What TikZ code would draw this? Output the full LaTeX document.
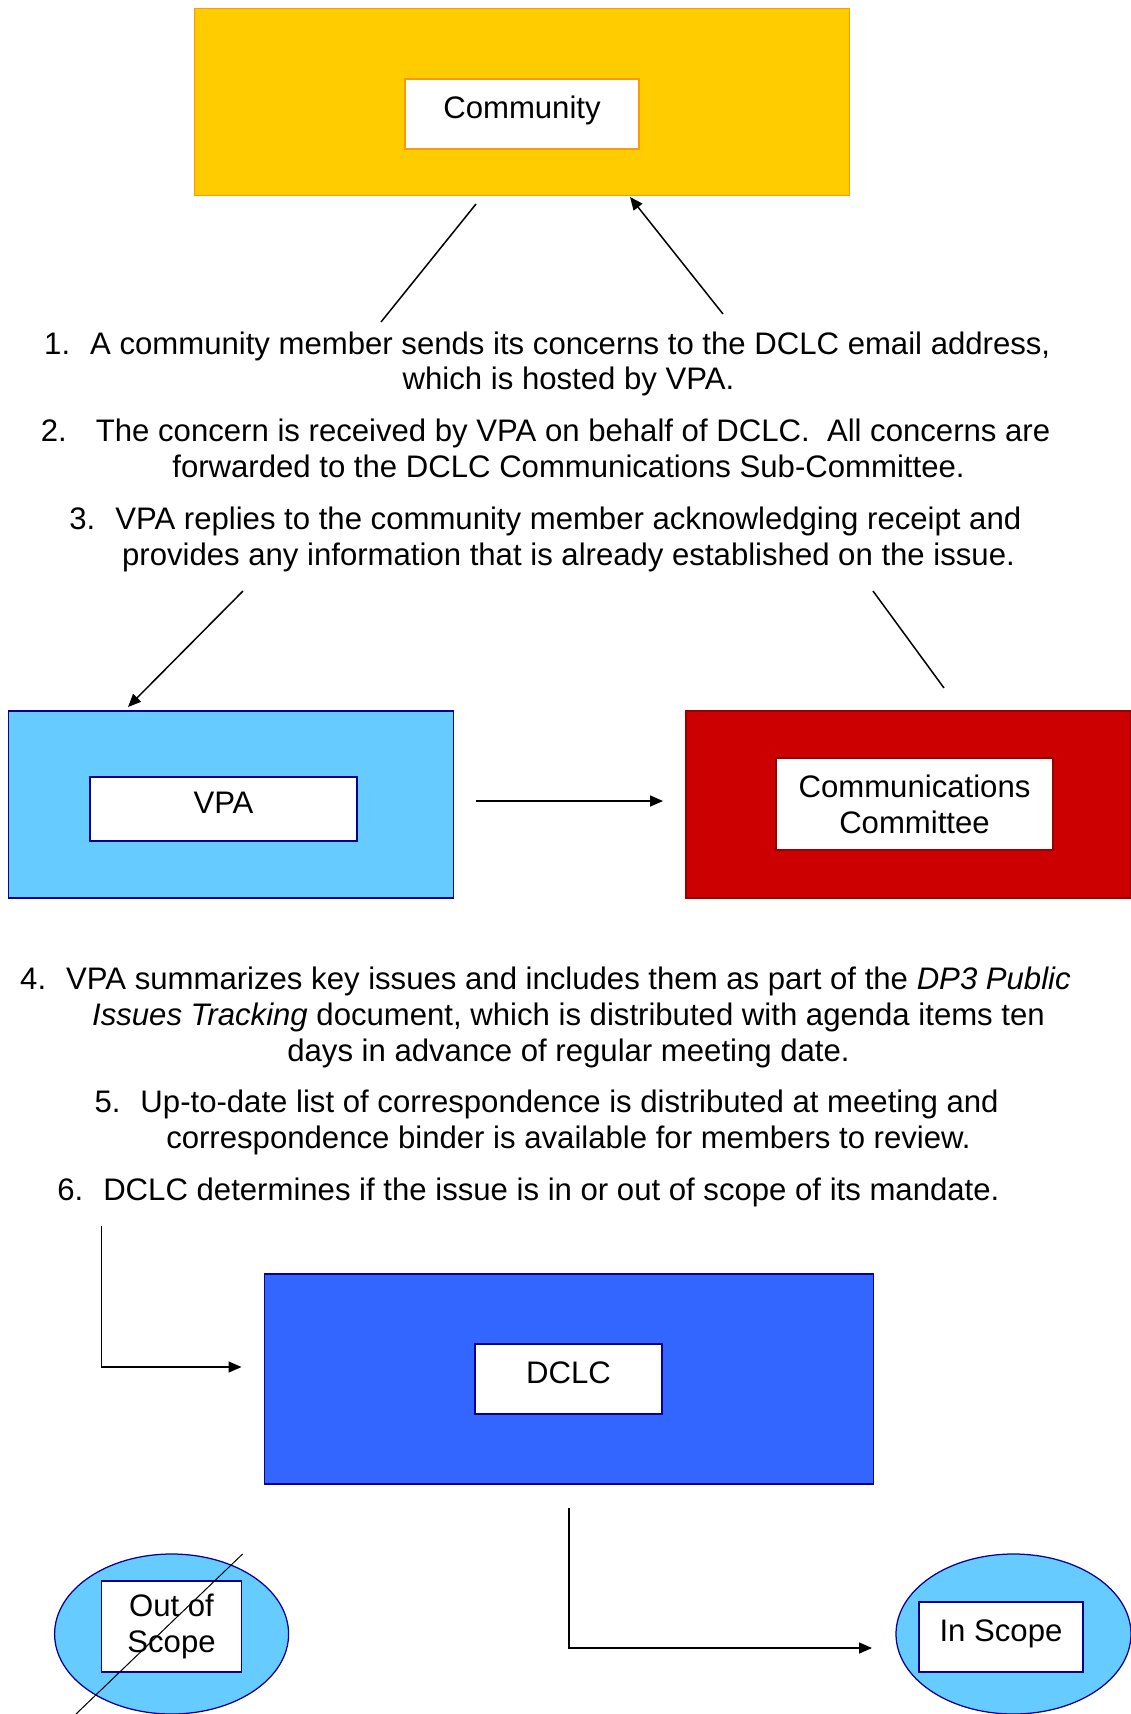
\documentclass[tikz,border=0pt]{standalone}
\usepackage{fontspec}
\setmainfont{Liberation Sans}
\usepackage{tikz}
\usetikzlibrary{arrows.meta,calc,positioning,shapes.geometric}
\usepackage{xcolor}
\definecolor{commfill}{HTML}{FFCC00}
\definecolor{commline}{HTML}{FF9900}
\definecolor{vpafill}{HTML}{66CCFF}
\definecolor{navyline}{HTML}{000099}
\definecolor{ccfill}{HTML}{CC0000}
\definecolor{ccline}{HTML}{990000}
\definecolor{dclcfill}{HTML}{3366FF}
\newcommand{\stepnum}[2][18.4pt]{\makebox[#1][l]{#2}}

\begin{document}
\begin{tikzpicture}[x=0.4pt,y=-0.4pt,
  boxsize/.style 2 args={minimum width=#1*0.4pt,minimum height=#2*0.4pt},
  txt/.style={font=\fontsize{12.45}{14.4}\selectfont,inner sep=0pt,text height=8.9pt,text depth=0pt},
  outerbox/.style={draw,line width=0.5pt,inner sep=0pt},
  innerbox/.style={draw,fill=white,line width=0.5pt,inner sep=0pt,font=\fontsize{12.45}{14.4}\selectfont,text height=8.9pt,text depth=5pt},
  innertwo/.style={draw,fill=white,line width=0.5pt,inner sep=0pt,font=\fontsize{12.45}{14.4}\selectfont,align=center},
  conn/.style={line width=0.6pt},
  arr/.style={line width=0.6pt,-{Triangle[length=5.2pt,width=4.4pt]}}]
  \useasboundingbox (0,0) rectangle (1131,1714);
  % community
  \node[outerbox,fill=commfill,draw=commline,boxsize={655}{187}] (commbg) at (522,102) {};
  \node[innerbox,draw=commline,boxsize={234}{70}] (community) at (522,114) {Community};
  \coordinate (c1a) at (476,204); \coordinate (c1b) at (381,322);
  \coordinate (c2a) at (723,314); \coordinate (c2b) at (630,197);
  \draw[conn] (c1a)--(c1b);
  \draw[arr] (c2a)--(c2b);
  % steps 1-3
  \node[txt,anchor=west] (s1a) at (43.7,343) {\stepnum{1.}A community member sends its concerns to the DCLC email address,};
  \node[txt] (s1b) at (568.5,378) {which is hosted by VPA.};
  \node[txt,anchor=west] (s2a) at (40.4,430.6) {\stepnum[22pt]{2.}The concern is received by VPA on behalf of DCLC.\ \ All concerns are};
  \node[txt] (s2b) at (568.5,466.6) {forwarded to the DCLC Communications Sub-Committee.};
  \node[txt,anchor=west] (s3a) at (68.8,518) {\stepnum{3.}VPA replies to the community member acknowledging receipt and};
  \node[txt] (s3b) at (568.5,554) {provides any information that is already established on the issue.};
  \coordinate (c3a) at (243,591); \coordinate (c3b) at (128,707);
  \coordinate (c4a) at (873,591); \coordinate (c4b) at (944,688);
  \draw[arr] (c3a)--(c3b);
  \draw[conn] (c4a)--(c4b);
  % vpa and committee
  \node[outerbox,fill=vpafill,draw=navyline,boxsize={445}{187}] (vpabg) at (231,804.5) {};
  \node[innerbox,draw=navyline,boxsize={267}{64}] (vpa) at (223.5,809) {VPA};
  \node[outerbox,fill=ccfill,draw=ccline,boxsize={445}{187}] (ccbg) at (908.5,804.5) {};
  \node[innertwo,draw=ccline,boxsize={277}{92}] (cc) at (914.5,804) {Communications\\Committee};
  \coordinate (c5a) at (476,801); \coordinate (c5b) at (663,801);
  \draw[arr] (c5a)--(c5b);
  % steps 4-6
  \node[txt,anchor=west] (s4a) at (19.7,978) {\stepnum{4.}VPA summarizes key issues and includes them as part of the \textit{DP3 Public}};
  \node[txt] (s4b) at (568.5,1014) {\textit{Issues Tracking} document, which is distributed with agenda items ten};
  \node[txt] (s4c) at (568.5,1050) {days in advance of regular meeting date.};
  \node[txt,anchor=west] (s5a) at (94,1101.5) {\stepnum{5.}Up-to-date list of correspondence is distributed at meeting and};
  \node[txt] (s5b) at (568.5,1137.6) {correspondence binder is available for members to review.};
  \node[txt,anchor=west] (s6a) at (56.8,1189) {\stepnum{6.}DCLC determines if the issue is in or out of scope of its mandate.};
  % dclc
  \coordinate (c6a) at (101.6,1226); \coordinate (c6b) at (241.5,1367);
  \draw[arr] (c6a) |- (c6b);
  \node[outerbox,fill=dclcfill,draw=navyline,boxsize={608.5}{210}] (dclcbg) at (569,1379) {};
  \node[innerbox,draw=navyline,boxsize={187}{70}] (dclc) at (568.5,1379) {DCLC};
  \coordinate (c7a) at (569,1508); \coordinate (c7b) at (872,1648);
  \draw[arr] (c7a) |- (c7b);
  % scope
  \node[ellipse,outerbox,fill=vpafill,draw=navyline,boxsize={234}{160}] (outbg) at (171.6,1634) {};
  \node[innertwo,draw=navyline,boxsize={140}{91}] (outscope) at (171.5,1626.5) {Out of\\Scope};
  \node[ellipse,outerbox,fill=vpafill,draw=navyline,boxsize={235}{160}] (inbg) at (1013.5,1634) {};
  \node[innerbox,draw=navyline,boxsize={164}{70}] (inscope) at (1001,1637) {In Scope};
  \coordinate (c8a) at (242.6,1554); \coordinate (c8b) at (76,1714);
  \draw[line width=0.4pt] (c8a)--(c8b);
\end{tikzpicture}
\end{document}
